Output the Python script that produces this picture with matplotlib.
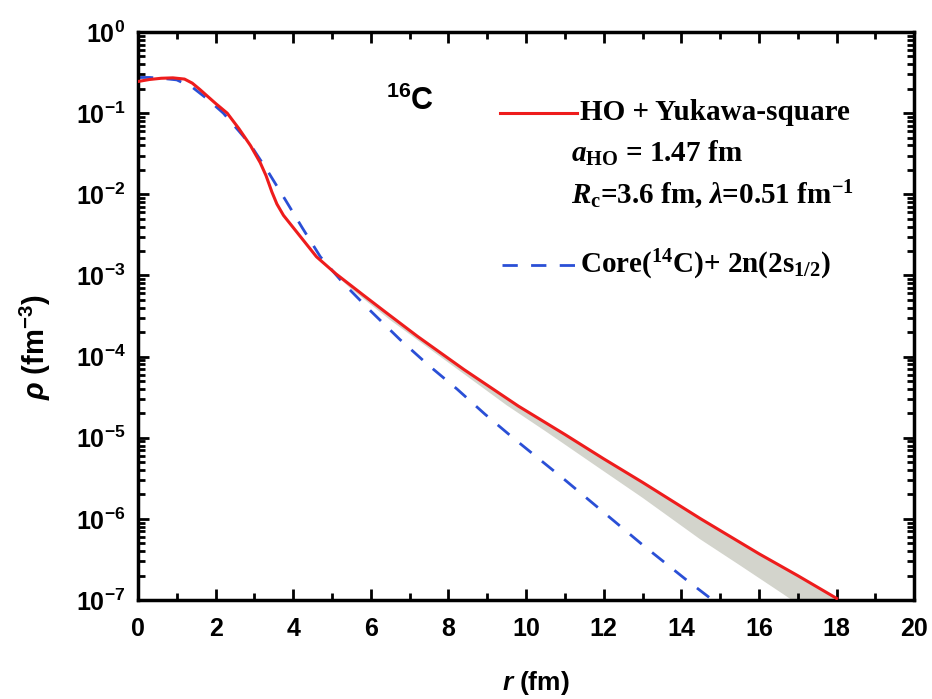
import numpy as np
import matplotlib
matplotlib.use("Agg")
import matplotlib.pyplot as plt
from matplotlib.ticker import LogLocator, MultipleLocator, FixedLocator, NullFormatter

plt.rcParams['mathtext.fontset'] = 'custom'
plt.rcParams['mathtext.rm'] = 'Liberation Serif:bold'
plt.rcParams['mathtext.it'] = 'Liberation Serif:italic:bold'
plt.rcParams['mathtext.bf'] = 'Liberation Serif:bold'
plt.rcParams['mathtext.sf'] = 'Liberation Sans:bold'
plt.rcParams['mathtext.tt'] = 'Liberation Sans:italic:bold'

# ---- data (log10 of density) ----
r_red = [0, 0.3, 0.6, 0.9, 1.2, 1.4, 1.6, 2.0, 2.3, 2.6, 2.9, 3.15, 3.3, 3.45, 3.58,
         3.75, 4.1, 4.6, 5.1, 5.8, 6.4, 7.2, 8.4, 9.8, 11.0, 12.0, 13.0, 14.5, 16.0,
         17.0, 18.0]
lg_red = [-0.61, -0.585, -0.57, -0.565, -0.58, -0.63, -0.71, -0.88, -1.00, -1.19, -1.40,
          -1.61, -1.77, -1.97, -2.12, -2.26, -2.47, -2.77, -2.98, -3.24, -3.46, -3.75,
          -4.16, -4.61, -4.96, -5.26, -5.55, -6.00, -6.43, -6.70, -6.98]

r_blue = [0, 0.3, 0.6, 1.0, 1.4, 1.8, 2.2, 2.6, 2.9, 3.35, 3.8, 4.23, 4.7, 5.28, 6.0,
          6.75, 7.47, 8.22, 8.94, 9.66, 11.0, 12.0, 13.0, 14.15, 14.75]
lg_blue = [-0.56, -0.56, -0.57, -0.59, -0.68, -0.83, -1.0, -1.22, -1.39, -1.72, -2.07,
           -2.41, -2.77, -3.09, -3.44, -3.79, -4.10, -4.40, -4.71, -5.00, -5.52, -5.92,
           -6.32, -6.76, -6.98]

r_band_low = [4.6, 5.5, 6.5, 7.5, 8.5, 9.5, 10.5, 11.9, 13.0, 14.48, 15.5, 16.6, 17.0]
lg_band_low = [-2.78, -3.17, -3.55, -3.90, -4.25, -4.60, -4.92, -5.38, -5.74, -6.25,
               -6.57, -6.92, -7.05]

x_ticks = [0, 2, 4, 6, 8, 10, 12, 14, 16, 18, 20]
y_exps = [0, -1, -2, -3, -4, -5, -6, -7]

rho_red = 10.0 ** np.array(lg_red)
rho_blue = 10.0 ** np.array(lg_blue)

fig = plt.figure(figsize=(9.32, 6.99), dpi=100)
ax = fig.add_axes([0.148, 0.1416, 0.833, 0.8126])
ax.set_yscale('log')
ax.set_xlim(0, 20)
ax.set_ylim(1e-7, 1)

# uncertainty band (upper edge = red curve)
band_r = [r for r in r_red if r >= 4.6] + r_band_low[::-1]
band_v = ([10.0 ** v for r, v in zip(r_red, lg_red) if r >= 4.6]
          + [10.0 ** v for v in lg_band_low[::-1]])
ax.fill(band_r, band_v, color='#d3d4cc', lw=0, zorder=1)

ax.plot(r_blue, rho_blue, color='#2a4fd6', lw=2.0, dashes=(5.5, 4.8), zorder=2)
ax.plot(r_red, rho_red, color='#ee1c1c', lw=2.2, zorder=3)

# ticks
ax.xaxis.set_major_locator(FixedLocator(x_ticks))
ax.xaxis.set_minor_locator(MultipleLocator(1))
ax.set_xticklabels([str(t) for t in x_ticks], fontfamily='Liberation Sans',
                   fontweight='bold', fontsize=18)
ax.yaxis.set_major_locator(FixedLocator([10.0 ** e for e in y_exps]))
ax.yaxis.set_minor_locator(LogLocator(base=10, subs=np.arange(2, 10), numticks=20))
ax.yaxis.set_minor_formatter(NullFormatter())
ax.set_yticklabels([r'$\mathsf{10^{%d}}$' % e for e in y_exps], fontsize=18)
ax.tick_params(which='both', direction='in', top=True, right=True, width=2.0)
ax.tick_params(which='major', length=8)
ax.tick_params(axis='x', which='major', pad=12)
ax.tick_params(axis='y', which='major', pad=9)
ax.tick_params(which='minor', length=5)
for s in ax.spines.values():
    s.set_linewidth(2.5)

ax.set_xlabel(r'$\mathtt{r}$$\mathsf{\ (fm)}$', fontsize=19)
ax.xaxis.set_label_coords(0.512, -0.122)
ax.set_ylabel(r'$\mathtt{\rho}$$\mathsf{\ (fm^{-3})}$', fontsize=21)
ax.yaxis.set_label_coords(-0.110, 0.446)

# annotations
def px(x, y):
    return (x / 932.0, 1 - y / 699.0)

fig.text(*px(386, 100), r'$\mathsf{^{16}C}$', fontsize=22, va='center', ha='left')

fig.add_artist(plt.Line2D([500 / 932, 577 / 932], [1 - 113 / 699] * 2,
                          color='#ee1c1c', lw=2.2))
fig.add_artist(plt.Line2D([502 / 932, 576 / 932], [1 - 265 / 699] * 2,
                          color='#2a4fd6', lw=2.0, dashes=(5.5, 4.8)))
serif = dict(fontfamily='Liberation Serif', fontweight='bold', fontsize=21,
             va='center', ha='left')
fig.text(*px(580, 113), 'HO + Yukawa-square', **serif)
fig.text(*px(571, 153), r'$a_{\rm HO}$ = 1.47 fm', **serif)
fig.text(*px(571, 195), r'$R_{\rm c}$=3.6 fm, $\lambda$=0.51 fm$^{-1}$', **serif)
fig.text(*px(580, 265), r'Core($^{14}$C)+ 2n(2s$_{1/2}$)', **serif)

fig.savefig('out.png', dpi=100, facecolor='white')
